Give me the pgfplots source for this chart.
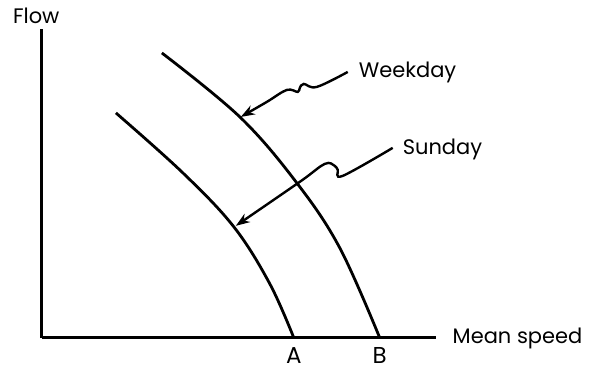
\documentclass[border=0pt]{standalone}
\usepackage{pgfplots}
\pgfplotsset{compat=1.18}
\usepackage{fontspec}
\setmainfont{Poppins}
\usetikzlibrary{arrows.meta}
\begin{document}
\begin{tikzpicture}
\begin{axis}[
  x=0.5pt, y=0.5pt,
  xmin=42, xmax=436, ymin=38, ymax=347,
  axis lines=left,
  axis line style={-, line width=1.5pt},
  xtick=\empty, ytick=\empty,
  clip=false,
]
\path (axis cs:0,0) rectangle (axis cs:589,376);
% Weekday curve
\addplot[black, line width=1.4pt, smooth, tension=0.6] coordinates {
  (162,323) (240,259) (297,193) (340,128) (380,38)
};
% Sunday curve
\addplot[black, line width=1.4pt, smooth, tension=0.6] coordinates {
  (116,263) (183,203) (234,149) (270,92) (294,38)
};
% labels
\node[anchor=west, font=\fontsize{10.5}{12}\selectfont] at (axis cs:6,360) {Flow};
\node[anchor=west, font=\fontsize{10.5}{12}\selectfont] at (axis cs:446,37) {Mean speed};
\node[font=\fontsize{11.5}{12}\selectfont] at (axis cs:294,20) {A};
\node[font=\fontsize{11.5}{12}\selectfont] at (axis cs:380,20) {B};
\node[anchor=west, font=\fontsize{10.5}{12}\selectfont] at (axis cs:352,304) {Weekday};
\node[anchor=west, font=\fontsize{10.5}{12}\selectfont] at (axis cs:396,226) {Sunday};
% pointer arrows
\draw[line width=1.2pt, -{Stealth[length=7pt, width=5pt]}] plot[smooth, tension=0.6] coordinates {
  (axis cs:348,304) (axis cs:317,289) (axis cs:304,292) (axis cs:300,288) (axis cs:298,284) (axis cs:287,286) (axis cs:267,274) (axis cs:241,259)
};
\draw[line width=1.2pt, -{Stealth[length=7pt, width=5pt]}] plot[smooth, tension=0.6] coordinates {
  (axis cs:393,228) (axis cs:343,200) (axis cs:338,206) (axis cs:335,210) (axis cs:325,212) (axis cs:300,194) (axis cs:236,150)
};
\end{axis}
\end{tikzpicture}
\end{document}
